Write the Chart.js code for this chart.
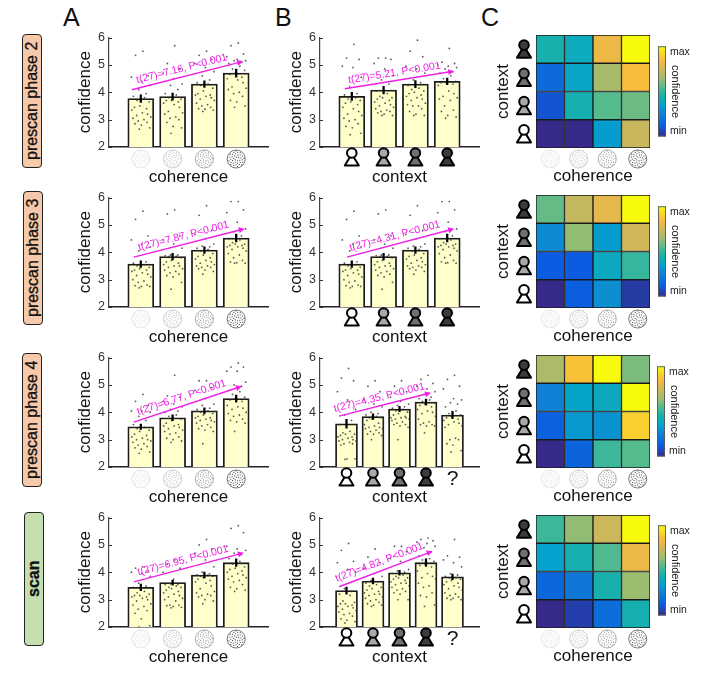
<!DOCTYPE html>
<html>
<head>
<meta charset="utf-8">
<title>confidence</title>
<script src="https://cdn.jsdelivr.net/npm/chart.js@4"></script>
<style>
  body { margin: 0; background: #fff; font-family: "Liberation Sans", sans-serif; }
  #page { position: relative; width: 708px; height: 677px; overflow: hidden; }
  canvas { position: absolute; }
  .letter { position: absolute; font-size: 25px; color: #111; line-height: 25px; }
  .phase {
    position: absolute; width: 18px; height: 132px; border: 1.5px solid #222; border-radius: 4px;
    writing-mode: vertical-rl; transform: rotate(180deg); text-align: center;
    font-size: 16px; line-height: 18px; color: #111; white-space: nowrap;
    -webkit-text-stroke: 0.3px #111;
  }
</style>
</head>
<body>
<div id="page"></div>
<script>
/* =========================
   DATA
========================= */
const rowTops = [36, 196, 356, 516];
const rowNames = ["prescan phase 2", "prescan phase 3", "prescan phase 4", "scan"];
const yTicks = [2, 3, 4, 5, 6];

const meansA = [
  [3.77, 3.84, 4.3, 4.7],
  [3.57, 3.84, 4.08, 4.52],
  [3.47, 3.8, 4.05, 4.5],
  [3.45, 3.62, 3.9, 4.35],
];
const errsA = [
  [0.14, 0.13, 0.12, 0.15],
  [0.12, 0.12, 0.12, 0.14],
  [0.1, 0.11, 0.11, 0.13],
  [0.12, 0.09, 0.11, 0.14],
];
const meansB = [
  [3.85, 4.08, 4.3, 4.4],
  [3.57, 3.84, 4.08, 4.52],
  [3.58, 3.84, 4.12, 4.37, 3.9],
  [3.33, 3.68, 3.98, 4.35, 3.83],
];
const errsB = [
  [0.15, 0.14, 0.13, 0.12],
  [0.12, 0.12, 0.12, 0.14],
  [0.16, 0.1, 0.1, 0.11, 0.13],
  [0.13, 0.11, 0.09, 0.14, 0.1],
];

const dotsR1A = [
  [5.5,5.35,4.6,4.55,4.4,4.25,4.1,3.95,3.85,3.8,3.7,3.65,3.5,3.45,3.4,3.35,3.25,3.2,3.15,3.1,3.05,3,2.95,2.9,2.85,2.8,2.7,2.65],
  [5.7,5.05,4.85,4.7,4.5,4.3,4.25,4.1,3.95,3.9,3.8,3.75,3.7,3.7,3.65,3.6,3.55,3.45,3.3,3.25,3.2,3.1,3.05,3,2.9,2.75,2.7,2.5],
  [5.5,5.35,5.2,5.05,4.9,4.75,4.6,4.45,4.35,4.3,4.25,4.15,4.05,3.95,3.9,3.9,3.85,3.8,3.75,3.7,3.6,3.55,3.5,3.45,3.4,3.38,3.35,3.3],
  [5.8,5.7,5.4,5.3,5.2,5.15,5.15,5.1,5.05,4.95,4.85,4.8,4.7,4.65,4.55,4.5,4.45,4.35,4.2,4.15,4.1,4,3.95,3.85,3.7,3.65,3.5,3.45],
];
const dotsR1B = [
  [5.75,5.25,5.2,4.95,4.9,4.55,4.2,3.95,3.9,3.8,3.75,3.7,3.65,3.6,3.55,3.45,3.4,3.3,3.2,3.15,3.05,3,2.95,2.85,2.75,2.7,2.5,2.45],
  [5.25,5.25,5.2,5.05,4.85,4.6,4.45,4.3,4.05,3.95,3.85,3.8,3.8,3.75,3.7,3.65,3.6,3.55,3.5,3.45,3.4,3.35,3.3,3.3,3.25,3.2,3.15,3.15],
  [5.9,5.5,5.3,4.95,4.85,4.7,4.45,4.35,4.25,4.15,4.1,4.05,4,3.95,3.9,3.85,3.8,3.75,3.7,3.6,3.55,3.5,3.5,3.4,3.3,3.2,3.15,3.15],
  [5.6,5.1,5.05,5,4.95,4.9,4.85,4.75,4.7,4.6,4.5,4.4,4.35,4.35,4.3,4.25,4.05,3.95,3.85,3.8,3.75,3.7,3.5,3.35,3.3,3.15,3.1,3.05],
];
const dotsR2 = [
  [5.5,5.2,4.6,4.45,4.3,4.2,4.05,3.65,3.6,3.55,3.5,3.45,3.4,3.35,3.35,3.3,3.25,3.2,3.15,3.1,3,2.95,2.9,2.8,2.78,2.75,2.75,2.7],
  [5.55,5.4,4.6,4.45,4.3,4.15,3.9,3.9,3.88,3.85,3.85,3.8,3.7,3.65,3.6,3.55,3.5,3.5,3.45,3.4,3.35,3.3,3.25,3.2,3.15,3.1,2.9,2.65],
  [5.7,5.35,4.8,4.65,4.5,4.3,4.22,4.2,4.15,4.1,4.05,3.95,3.9,3.85,3.8,3.75,3.7,3.65,3.6,3.55,3.5,3.5,3.45,3.45,3.4,3.35,3.3,3.2],
  [5.85,5.85,5.55,5.45,5.1,4.85,4.75,4.6,4.5,4.45,4.35,4.3,4.3,4.25,4.25,4.2,4.2,4.15,4.1,4.05,3.95,3.9,3.8,3.7,3.65,3.62,3.6,3.6],
];
const dotsR3A = [
  [4.65,4.4,4.25,4.05,4.05,4,3.85,3.7,3.55,3.45,3.4,3.35,3.3,3.2,3.15,3.1,3.05,3,3,2.95,2.9,2.85,2.8,2.75,2.7,2.65,2.55,2.5],
  [5.35,4.6,4.55,4.4,4.3,4.2,4.1,4.05,4,3.9,3.85,3.75,3.7,3.6,3.55,3.5,3.5,3.45,3.4,3.35,3.3,3.25,3.2,3.1,3.05,3,2.95,2.9],
  [5.15,5.15,4.9,4.8,4.5,4.3,4.25,4.15,4.1,4.05,4,3.95,3.9,3.85,3.8,3.8,3.75,3.7,3.7,3.65,3.6,3.55,3.5,3.45,3.4,3.35,3.3,2.85],
  [5.8,5.65,5.65,5.5,5.5,5.1,5,4.95,4.8,4.75,4.65,4.55,4.5,4.45,4.4,4.25,4.2,4.15,4.1,4,3.95,3.9,3.85,3.75,3.7,3.65,3.6,3.3],
];
const dotsR3B = [
  [5.6,5.25,5.15,4.75,4.45,4.1,3.9,3.7,3.55,3.3,3.25,3.2,3.2,3.15,3.1,3.1,3.05,3,3,2.95,2.95,2.9,2.85,2.85,2.8,2.3,2.3,2.28],
  [5.15,4.95,4.75,4.45,4.3,4.2,4,3.95,3.9,3.85,3.8,3.8,3.75,3.7,3.6,3.55,3.5,3.45,3.45,3.4,3.4,3.35,3.3,3.25,3.2,3.2,3.15,3],
  [5.15,4.95,4.75,4.55,4.4,4.3,4.25,4.2,4.15,4.1,4.05,4,3.95,3.9,3.85,3.8,3.8,3.8,3.75,3.75,3.7,3.65,3.6,3.55,3.55,3.5,3.45,3],
  [5.35,5.2,5.05,4.95,4.85,4.75,4.65,4.55,4.5,4.45,4.4,4.35,4.3,4.25,4.2,4.1,4.05,4,3.95,3.85,3.75,3.65,3.6,3.55,3.55,3.5,3.5,3.25],
  [5.35,5.2,4.95,4.85,4.5,4.45,4.35,4.3,4.2,4.05,3.95,3.9,3.85,3.8,3.75,3.7,3.65,3.6,3.55,3.5,3.45,3.05,3,3,2.85,2.8,2.6,2.55],
];
const dotsR4A = [
  [4.2,4.15,4.05,4,3.95,3.85,3.6,3.5,3.45,3.3,3.25,3.2,3.15,3.15,3.1,3.1,3.05,3,2.95,2.85,2.8,2.75,2.65,2.6,2.5,2.3,2.05,2],
  [4.45,4.3,4.15,4,3.75,3.6,3.58,3.55,3.55,3.5,3.45,3.45,3.4,3.35,3.3,3.25,3.2,3.15,3.1,3.05,3,2.95,2.8,2.8,2.78,2.75,2.72,2.7],
  [5.2,5,4.85,4.7,4.45,4.2,4,3.95,3.9,3.9,3.85,3.85,3.8,3.75,3.7,3.65,3.6,3.5,3.4,3.3,3.25,3.2,3.15,3.15,3.1,3,2.95,2.85],
  [5.7,5.6,5.45,4.95,4.85,4.8,4.7,4.65,4.5,4.4,4.3,4.2,4.15,4.1,4.05,4,3.95,3.9,3.85,3.8,3.75,3.7,3.65,3.55,3.45,3.4,3.35,3.3],
];
const dotsR4B = [
  [5.05,4.8,4.4,4.35,4.1,4,3.4,3.3,3.2,3.15,2.95,2.9,2.85,2.85,2.8,2.75,2.75,2.7,2.65,2.6,2.55,2.5,2.45,2.4,2.3,2.25,2.2,2.15],
  [4.85,4.55,4.35,4.15,3.95,3.85,3.7,3.65,3.6,3.55,3.5,3.45,3.4,3.35,3.3,3.25,3.2,3.2,3.15,3.1,3.05,3,2.95,2.9,2.85,2.8,2.8,2.75],
  [4.95,4.95,4.75,4.5,4.4,4.1,4.05,4,3.95,3.9,3.85,3.8,3.8,3.75,3.7,3.65,3.6,3.6,3.55,3.5,3.45,3.4,3.35,3.3,3.25,3.2,3,3],
  [5.25,5.2,5.15,5.1,5.05,4.95,4.9,4.75,4.6,4.5,4.45,4.4,4.3,4.25,4.2,4.05,3.95,3.85,3.8,3.75,3.6,3.5,3.45,3.25,3.15,3.1,2.8,2.75],
  [5.2,4.6,4.55,4.45,4.35,4.2,3.95,3.9,3.85,3.8,3.8,3.75,3.7,3.65,3.6,3.55,3.5,3.45,3.4,3.35,3.25,3.2,3.15,3.1,3.05,3.05,3,3],
];
const dotsA = [dotsR1A, dotsR2, dotsR3A, dotsR4A];
const dotsB = [dotsR1B, dotsR2, dotsR3B, dotsR4B];

const jitter = [0.2,-0.5,0.7,-0.9,0.1,0.9,-0.2,0.5,-0.7,0.35,-0.35,0.8,-0.1,-0.6,0.55,-0.85,0.15,0.65,-0.4,0.95,-0.75,0.3,-0.25,0.6,-0.55,0.05,0.85,-0.15];

const trendFromA = [[0.72, 4.09], [0.78, 3.82], [0.78, 3.64], [0.78, 3.65]];
const trendToA = [[4.22, 5.13], [4.27, 4.86], [4.18, 4.95], [4.24, 4.71]];
const trendFromB = [[0.78, 4.13], [0.85, 3.82], [0.72, 3.86], [0.72, 3.47]];
const trendToB = [[4.22, 4.77], [4.22, 4.86], [4.19, 4.71], [4.25, 4.77]];
const trendTextA = ["t(27)=7.16, P<0.001", "t(27)=7.87, P<0.001", "t(27)=6.77, P<0.001", "t(27)=6.95, P<0.001"];
const trendTextB = ["t(27)=5.21, P<0.001", "t(27)=4.31, P<0.001", "t(27)=4.35, P<0.001", "t(27)=4.82, P<0.001"];

// heatmap rows run from the darkest context (top) to the white one (bottom), 0 = min, 1 = max
const heatR1 = [[0.45, 0.4, 0.82, 1], [0.17, 0.37, 0.66, 0.86], [0.1, 0.44, 0.55, 0.58], [0, 0, 0.33, 0.73]];
const heatR2 = [[0.57, 0.72, 0.8, 1], [0.28, 0.63, 0.33, 0.75], [0.12, 0.12, 0.39, 0.5], [0, 0.13, 0.29, 0.04]];
const heatR3 = [[0.67, 0.87, 1, 0.6], [0.25, 0.36, 0.39, 1], [0.14, 0.32, 0.3, 0.9], [0, 0.15, 0.51, 0.55]];
const heatR4 = [[0.51, 0.63, 0.74, 1], [0.35, 0.44, 0.54, 0.82], [0.16, 0.22, 0.45, 0.64], [0, 0.05, 0.18, 0.44]];
const heats = [heatR1, heatR2, heatR3, heatR4];
const coherenceLevels = ["1", "2", "3", "4"];

const cmapStops = [0, 0.12, 0.25, 0.35, 0.45, 0.55, 0.65, 0.75, 0.85, 1];
const cmapColors = ["#352a87", "#0b5ce0", "#1080d4", "#05a3cd", "#17b0ad", "#55bb8d", "#a3bc6c", "#d2b65a", "#f7b93e", "#f8fa0d"];
const personFills = ["#ffffff", "#a8a8a8", "#707070", "#3c3c3c"];

/* =========================
   HELPERS
========================= */
Chart.defaults.font.family = '"Liberation Sans", sans-serif';
Chart.defaults.animation = false;
Chart.defaults.responsive = false;
Chart.defaults.plugins.legend.display = false;
Chart.defaults.plugins.tooltip.enabled = false;

const page = document.getElementById("page");

function addCanvas(left, top, w, h) {
  const c = document.createElement("canvas");
  c.width = w;
  c.height = h;
  c.style.left = left + "px";
  c.style.top = top + "px";
  c.style.width = w + "px";
  c.style.height = h + "px";
  page.appendChild(c);
  return c.getContext("2d");
}

function hexToRgb(h) {
  return [1, 3, 5].map((i) => parseInt(h.slice(i, i + 2), 16));
}

function cmap(v) {
  let i = 0;
  while (i < cmapStops.length - 2 && v > cmapStops[i + 1]) i++;
  const t = (v - cmapStops[i]) / (cmapStops[i + 1] - cmapStops[i]);
  const a = hexToRgb(cmapColors[i]);
  const b = hexToRgb(cmapColors[i + 1]);
  return `rgb(${a.map((x, k) => Math.round(x + (b[k] - x) * t)).join(",")})`;
}

// dotted stimulus, contrast goes up with the level
function drawStimulus(ctx, cx, cy, level) {
  const alpha = [0.16, 0.3, 0.5, 0.85][level];
  ctx.save();
  ctx.globalAlpha = alpha;
  ctx.strokeStyle = "#333";
  ctx.lineWidth = 0.8;
  ctx.beginPath();
  ctx.arc(cx, cy, 9, 0, Math.PI * 2);
  ctx.stroke();
  ctx.fillStyle = "#222";
  for (let i = 1; i < 38; i++) {
    const r = 8.2 * Math.sqrt(i / 38);
    const a = i * 2.39996;
    ctx.fillRect(cx + r * Math.cos(a) - 0.5, cy + r * Math.sin(a) - 0.5, 1, 1);
  }
  ctx.restore();
}

function drawPerson(ctx, cx, headY, fill) {
  ctx.save();
  ctx.strokeStyle = "#000";
  ctx.fillStyle = fill;
  ctx.lineWidth = 2;
  ctx.lineJoin = "round";
  ctx.beginPath();
  ctx.moveTo(cx, headY + 1);
  ctx.lineTo(cx + 7, headY + 12.5);
  ctx.lineTo(cx - 7, headY + 12.5);
  ctx.closePath();
  ctx.fill();
  ctx.stroke();
  ctx.beginPath();
  ctx.arc(cx, headY, 4.8, 0, Math.PI * 2);
  ctx.fill();
  ctx.stroke();
  ctx.restore();
}

function drawArrow(chart, from, to, text) {
  const { ctx, scales: { x, y } } = chart;
  const x1 = x.getPixelForValue(from[0]);
  const y1 = y.getPixelForValue(from[1]);
  const x2 = x.getPixelForValue(to[0]);
  const y2 = y.getPixelForValue(to[1]);
  const ang = Math.atan2(y2 - y1, x2 - x1);
  ctx.save();
  ctx.strokeStyle = "#f01ee6";
  ctx.fillStyle = "#f01ee6";
  ctx.lineWidth = 1.4;
  ctx.beginPath();
  ctx.moveTo(x1, y1);
  ctx.lineTo(x2 - 4 * Math.cos(ang), y2 - 4 * Math.sin(ang));
  ctx.stroke();
  ctx.translate(x2, y2);
  ctx.rotate(ang);
  ctx.beginPath();
  ctx.moveTo(0, 0);
  ctx.lineTo(-6, -3);
  ctx.lineTo(-6, 3);
  ctx.closePath();
  ctx.fill();
  ctx.restore();
  ctx.save();
  ctx.fillStyle = "#f01ee6";
  ctx.font = '10.5px "Liberation Sans", sans-serif';
  ctx.textAlign = "center";
  ctx.textBaseline = "middle";
  ctx.translate((x1 + x2) / 2 - 4, (y1 + y2) / 2);
  ctx.rotate(ang);
  ctx.fillText(text, 0, -7);
  ctx.restore();
}

/* =========================
   BAR PANELS (A and B)
========================= */
function barPanel(left, top, means, errs, dots, from, to, text, xTitle, under) {
  const n = means.length;
  const ctx = addCanvas(left - 34, top - 10, 34 + 163, 10 + 111 + 41);
  const thick = n === 5 ? 22 : 26;
  const spread = n === 5 ? 0.38 : 0.33;
  const xs = means.map((_, i) => i + 1);

  const scatter = [];
  dots.forEach((vals, i) => {
    vals.forEach((v, k) => scatter.push({ x: xs[i] + jitter[k] * spread, y: v }));
  });

  const decor = {
    id: "decor",
    afterDraw(chart) {
      const { ctx: c, scales: { x, y } } = chart;
      c.save();
      c.strokeStyle = "#333";
      c.lineWidth = 1;
      yTicks.forEach((t) => {
        const py = Math.round(y.getPixelForValue(t)) + 0.5;
        c.beginPath();
        c.moveTo(x.left, py);
        c.lineTo(x.left + 3, py);
        c.stroke();
      });
      c.restore();
      drawArrow(chart, from, to, text);
      xs.forEach((v, i) => under(c, x.getPixelForValue(v), y.bottom, i));
    },
  };

  new Chart(ctx, {
    type: "bar",
    data: {
      datasets: [
        {
          data: xs.map((x, i) => ({ x, y: means[i] })),
          grouped: false,
          barThickness: thick,
          backgroundColor: "#ffffcc",
          borderColor: "#1c1c1c",
          borderWidth: 1.8,
          borderSkipped: false,
          order: 3,
        },
        {
          type: "scatter",
          data: scatter,
          pointRadius: 0.9,
          pointBackgroundColor: "rgba(50,50,50,0.8)",
          pointBorderWidth: 0,
          order: 2,
        },
        {
          data: xs.map((x, i) => ({ x, y: [means[i] - errs[i], means[i] + errs[i]] })),
          grouped: false,
          barThickness: 1.6,
          backgroundColor: "#000",
          order: 1,
        },
      ],
    },
    plugins: [decor],
    options: {
      layout: { padding: { top: 10, right: 3, left: 0, bottom: 0 } },
      scales: {
        x: {
          type: "linear",
          offset: false,
          min: 0,
          max: n + 1,
          grid: { display: false, drawTicks: false },
          border: { color: "#222", width: 1.5 },
          ticks: { display: false },
          title: {
            display: true,
            text: xTitle,
            color: "#111",
            font: { size: 17 },
            padding: 0,
          },
          afterFit: (s) => { s.height = 41; },
        },
        y: {
          min: 2,
          max: 6,
          afterBuildTicks: (s) => { s.ticks = yTicks.map((value) => ({ value })); },
          grid: { display: false, drawTicks: false },
          border: { color: "#444", width: 1.2 },
          ticks: { color: "#333", font: { size: 12.5 }, padding: 4 },
          title: {
            display: true,
            text: "confidence",
            color: "#111",
            font: { size: 17 },
            padding: 0,
          },
          afterFit: (s) => { s.width = 34; },
        },
      },
    },
  });
}

function coherenceIcon(c, px, base, i) {
  drawStimulus(c, px, base + 12, i);
}

function contextIcon(c, px, base, i) {
  if (i < 4) {
    drawPerson(c, px, base + 6, personFills[i]);
  } else {
    c.save();
    c.fillStyle = "#111";
    c.font = '21px "Liberation Sans", sans-serif';
    c.textAlign = "center";
    c.textBaseline = "middle";
    c.fillText("?", px, base + 12);
    c.restore();
  }
}

/* =========================
   HEATMAPS AND COLORBARS (C)
========================= */
function heatPanel(top, cells) {
  const ctx = addCanvas(493, top - 11, 43 + 117, 10 + 113 + 39);

  const decor = {
    id: "decor",
    afterDraw(chart) {
      const { ctx: c, scales: { x, y } } = chart;
      cells.forEach((_, r) => {
        const cy = y.getPixelForValue(cells.length - r - 0.5);
        drawPerson(c, x.left - 12, cy - 4, personFills[cells.length - 1 - r]);
      });
      coherenceLevels.forEach((_, i) => {
        const shift = i === 3 ? 2 : 0;
        drawStimulus(c, x.getPixelForTick(i) + shift, y.bottom + 11, i);
      });
    },
  };

  new Chart(ctx, {
    type: "bar",
    data: {
      labels: coherenceLevels,
      datasets: cells.map((row, r) => ({
        data: row.map(() => [cells.length - r - 1, cells.length - r]),
        backgroundColor: row.map(cmap),
        borderColor: "#1a1a1a",
        borderWidth: 1,
        borderSkipped: false,
        grouped: false,
        barPercentage: 1,
        categoryPercentage: 1,
      })),
    },
    plugins: [decor],
    options: {
      layout: { padding: { top: 10, right: 3, left: 0, bottom: 0 } },
      scales: {
        x: {
          grid: { display: false, drawTicks: false },
          border: { display: false },
          ticks: { display: false },
          title: { display: true, text: "coherence", color: "#111", font: { size: 17 }, padding: 0 },
          afterFit: (s) => { s.height = 39; },
        },
        y: {
          min: 0,
          max: 4,
          grid: { display: false, drawTicks: false },
          border: { display: false },
          ticks: { display: false },
          title: { display: true, text: "context", color: "#111", font: { size: 17 }, padding: 0 },
          afterFit: (s) => { s.width = 43; },
        },
      },
    },
  });
}

function colorBar(left, top) {
  const ctx = addCanvas(left, top - 8, 50, 8 + 95 + 8);
  new Chart(ctx, {
    type: "bar",
    data: {
      labels: ["confidence"],
      datasets: [
        {
          data: [[0, 1]],
          barPercentage: 1,
          categoryPercentage: 1,
          borderColor: "#555",
          borderWidth: 1.2,
          borderSkipped: false,
          backgroundColor(c) {
            const area = c.chart.chartArea;
            if (!area) return "#888";
            const g = c.chart.ctx.createLinearGradient(0, area.bottom, 0, area.top);
            cmapStops.forEach((s, i) => g.addColorStop(s, cmapColors[i]));
            return g;
          },
        },
      ],
    },
    options: {
      layout: { padding: { top: 8, bottom: 8, right: 0, left: 0 } },
      scales: {
        x: { display: false },
        y: {
          position: "right",
          min: 0,
          max: 1,
          afterBuildTicks: (s) => { s.ticks = [{ value: 0.06 }, { value: 0.94 }]; },
          grid: { display: false, drawTicks: false },
          border: { display: false },
          ticks: {
            padding: 4,
            color: "#222",
            font: { size: 10.5 },
            callback: (v) => (v < 0.5 ? "min" : "max"),
          },
          title: { display: true, text: "confidence", color: "#222", font: { size: 11 }, padding: { top: 26, bottom: 0 } },
          afterFit: (s) => { s.width = 42; },
        },
      },
    },
  });
}

/* =========================
   PAGE
========================= */
[["A", 63, 5], ["B", 275, 5], ["C", 481, 5]].forEach(([t, x, y]) => {
  const d = document.createElement("div");
  d.className = "letter";
  d.textContent = t;
  d.style.left = x + "px";
  d.style.top = y + "px";
  page.appendChild(d);
});

const phaseBoxes = [[22, 34, "#f6c9aa"], [23, 191, "#f6c9aa"], [22, 353, "#f6c9aa"], [24, 512, "#c5dfb0"]];
rowNames.forEach((name, i) => {
  const d = document.createElement("div");
  d.className = "phase";
  d.textContent = name;
  d.style.left = phaseBoxes[i][0] + "px";
  d.style.top = phaseBoxes[i][1] + "px";
  d.style.background = phaseBoxes[i][2];
  if (name === "scan") d.style.fontWeight = "700";
  page.appendChild(d);
});

rowTops.forEach((top, r) => {
  barPanel(109, top, meansA[r], errsA[r], dotsA[r], trendFromA[r], trendToA[r], trendTextA[r], "coherence", coherenceIcon);
  barPanel(320, top, meansB[r], errsB[r], dotsB[r], trendFromB[r], trendToB[r], trendTextB[r], "context", contextIcon);
  heatPanel(top, heats[r]);
});
[[658, 44], [658, 204], [657, 364], [658, 523]].forEach(([x, y]) => colorBar(x, y));
</script>
</body>
</html>
